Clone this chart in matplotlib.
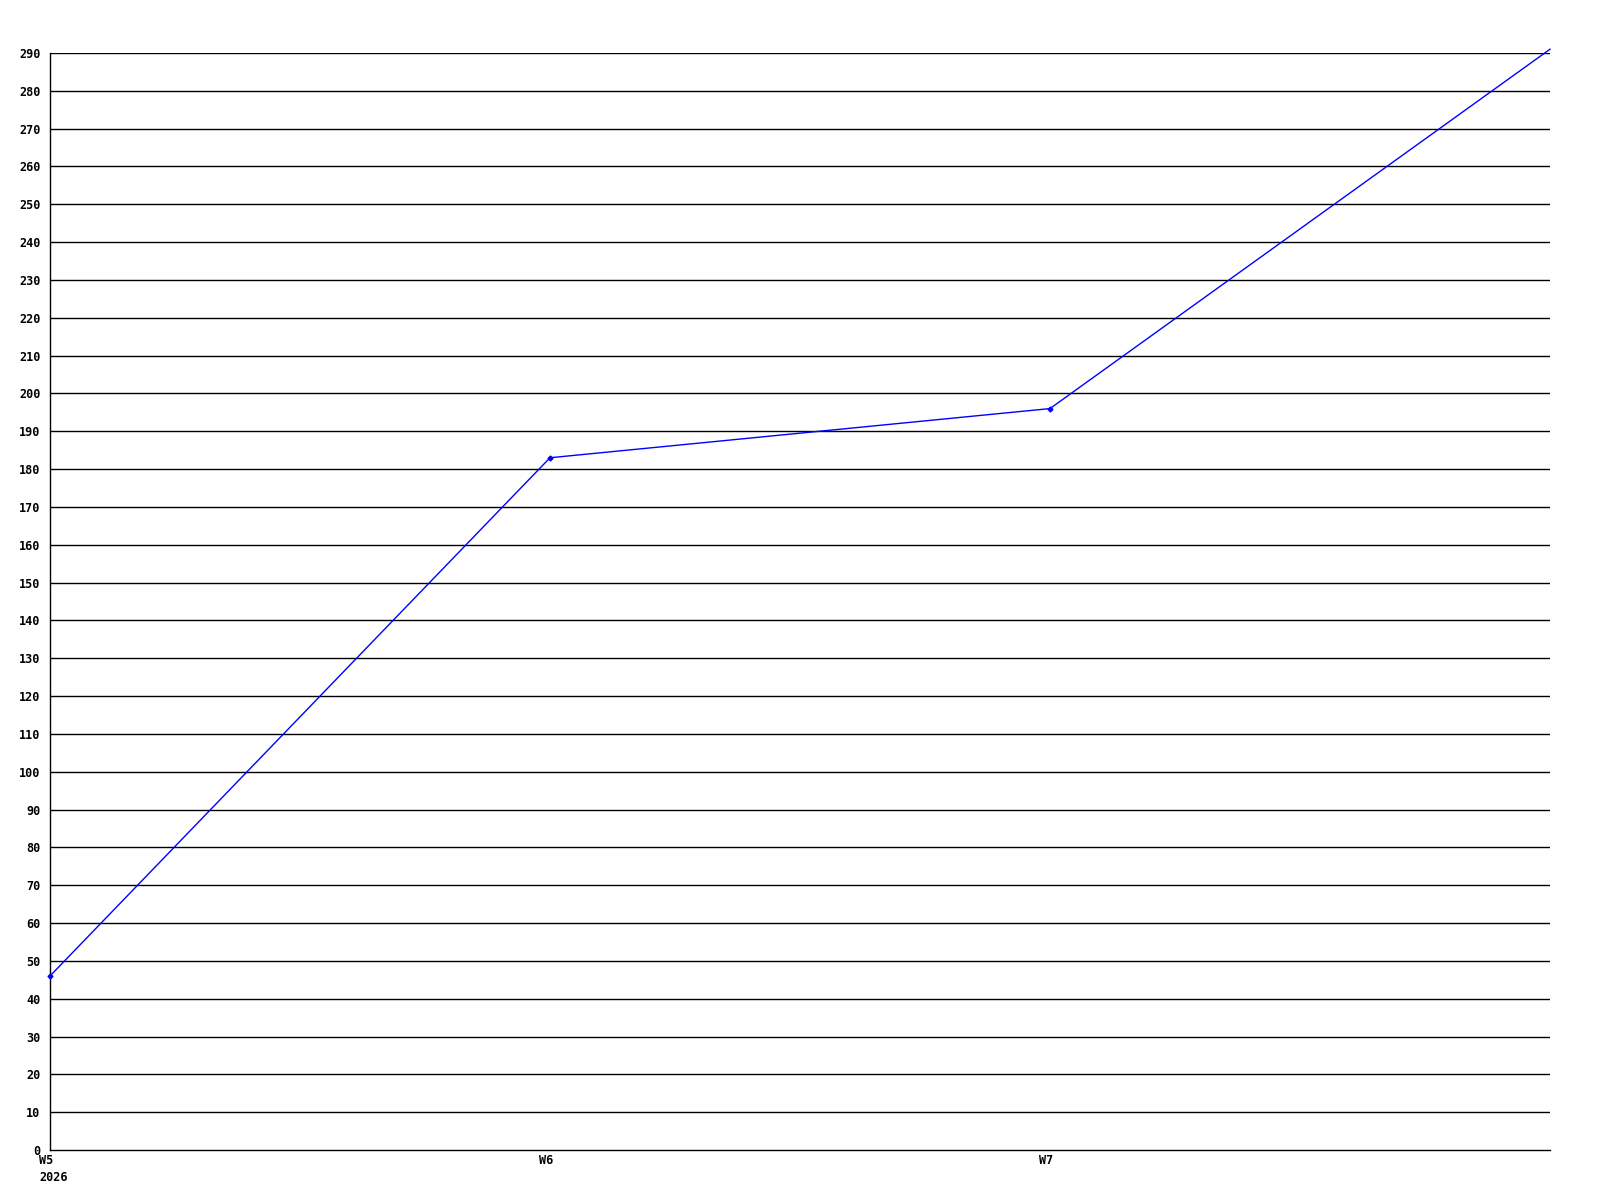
import matplotlib
matplotlib.use('Agg')
import matplotlib.pyplot as plt
from matplotlib.transforms import ScaledTranslation, blended_transform_factory

weeks = [0, 1, 2, 3]
values = [46, 183, 196, 291]
tick_pos = [0, 1, 2]
tick_labels = ['W5\n2026', 'W6', 'W7']
y_ticks = list(range(0, 300, 10))

fig = plt.figure(figsize=(16, 12), dpi=100)
ax = fig.add_axes([50 / 1600, 50 / 1200, 1500 / 1600, 1097 / 1200])

for y in y_ticks[1:]:
    ax.axhline(y, color='black', linewidth=1.0, zorder=1)

ax.plot(weeks, values, color='#0000ff', linewidth=1.0, marker='D',
        markersize=2.5, markevery=[0, 1, 2], clip_on=False, zorder=3)

ax.set_xlim(0, 3)
ax.set_ylim(0, 290)
ax.set_yticks(y_ticks)
ax.set_yticklabels([str(v) for v in y_ticks], family='DejaVu Sans Mono',
                   fontweight='bold', fontsize=8.5)
ax.set_xticks(tick_pos)
ax.set_xticklabels([])

# x labels sit a little left of their week, reading to the right
trans = blended_transform_factory(ax.transData, ax.transAxes) + \
    ScaledTranslation(-11 / 100, -4 / 100, fig.dpi_scale_trans)
for x, lab in zip(tick_pos, tick_labels):
    ax.text(x, 0, lab, transform=trans, ha='left', va='top',
            family='DejaVu Sans Mono', fontweight='bold', fontsize=8.5,
            linespacing=1.4)

ax.tick_params(axis='both', length=0)
ax.tick_params(axis='y', pad=7)
for side in ['top', 'right']:
    ax.spines[side].set_visible(False)
for side in ['left', 'bottom']:
    ax.spines[side].set_linewidth(1.0)
    ax.spines[side].set_color('black')

fig.savefig('out.png', dpi=100)
